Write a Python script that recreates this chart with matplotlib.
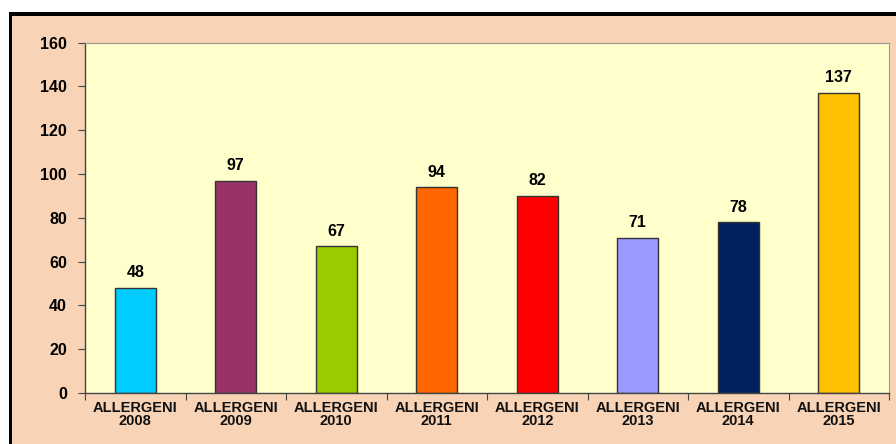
import matplotlib
matplotlib.use('Agg')
import matplotlib.pyplot as plt
from matplotlib.patches import Rectangle

# dati
categorie = ['ALLERGENI\n2008', 'ALLERGENI\n2009', 'ALLERGENI\n2010', 'ALLERGENI\n2011',
             'ALLERGENI\n2012', 'ALLERGENI\n2013', 'ALLERGENI\n2014', 'ALLERGENI\n2015']
altezze = [48, 97, 67, 94, 90, 71, 78, 137]   # altezza disegnata delle barre
etichette = ['48', '97', '67', '94', '82', '71', '78', '137']  # valori scritti sopra
colori = ['#00CCFF', '#993366', '#99CC00', '#FF6600', '#FF0000', '#9999FF', '#002060', '#FFC000']
yticks = [0, 20, 40, 60, 80, 100, 120, 140, 160]

W, H = 896, 444
fig = plt.figure(figsize=(W / 100, H / 100), dpi=100)
fig.patch.set_facecolor('white')

# sfondo pesca con cornice nera (sopra e a sinistra)
fig.patches.append(Rectangle((12 / W, 0), 1, (H - 16) / H, transform=fig.transFigure,
                             facecolor='#F9D3B5', edgecolor='none', zorder=-3))
fig.patches.append(Rectangle((9 / W, 0), 3 / W, (H - 12) / H, transform=fig.transFigure,
                             facecolor='black', edgecolor='none', zorder=-2))
fig.patches.append(Rectangle((9 / W, (H - 16) / H), 1, 4 / H, transform=fig.transFigure,
                             facecolor='black', edgecolor='none', zorder=-2))

ax = fig.add_axes([85 / W, (H - 393) / H, (889 - 85) / W, (393 - 42.7) / H])
ax.set_zorder(5)
ax.set_facecolor('#FFFFCC')

x = range(len(categorie))
bars = ax.bar(x, altezze, width=0.41, color=colori, edgecolor='#333333', linewidth=1.0, zorder=2)
for xi, h, lab in zip(x, altezze, etichette):
    ax.text(xi, h + 3.5, lab, ha='center', va='bottom', fontsize=11.5, fontweight='bold',
            family='Liberation Sans', color='black')

ax.set_xlim(-0.5, len(categorie) - 0.5)
ax.set_ylim(0, 160)
ax.set_yticks(yticks)
ax.set_yticklabels([str(v) for v in yticks], fontsize=11.5, fontweight='bold', family='Liberation Sans')
ax.set_xticks([i + 0.5 for i in range(-1, len(categorie))], minor=False)
ax.set_xticklabels([])
ax.set_xticks(list(x), minor=True)
ax.set_xticklabels(categorie, minor=True, fontsize=10.5, fontweight='bold', family='Liberation Sans',
                   linespacing=0.85, color='#111111')
ax.tick_params(axis='x', which='minor', length=0, pad=6)
ax.tick_params(axis='x', which='major', length=5, direction='out', color='#444444')
ax.tick_params(axis='y', length=5, direction='out', color='#444444', pad=8)

for s in ['left', 'bottom']:
    ax.spines[s].set_color('#444444')
    ax.spines[s].set_linewidth(1.0)
for s in ['top', 'right']:
    ax.spines[s].set_color('#999999')
    ax.spines[s].set_linewidth(0.8)

fig.savefig('out.png', dpi=100, facecolor=fig.get_facecolor())
